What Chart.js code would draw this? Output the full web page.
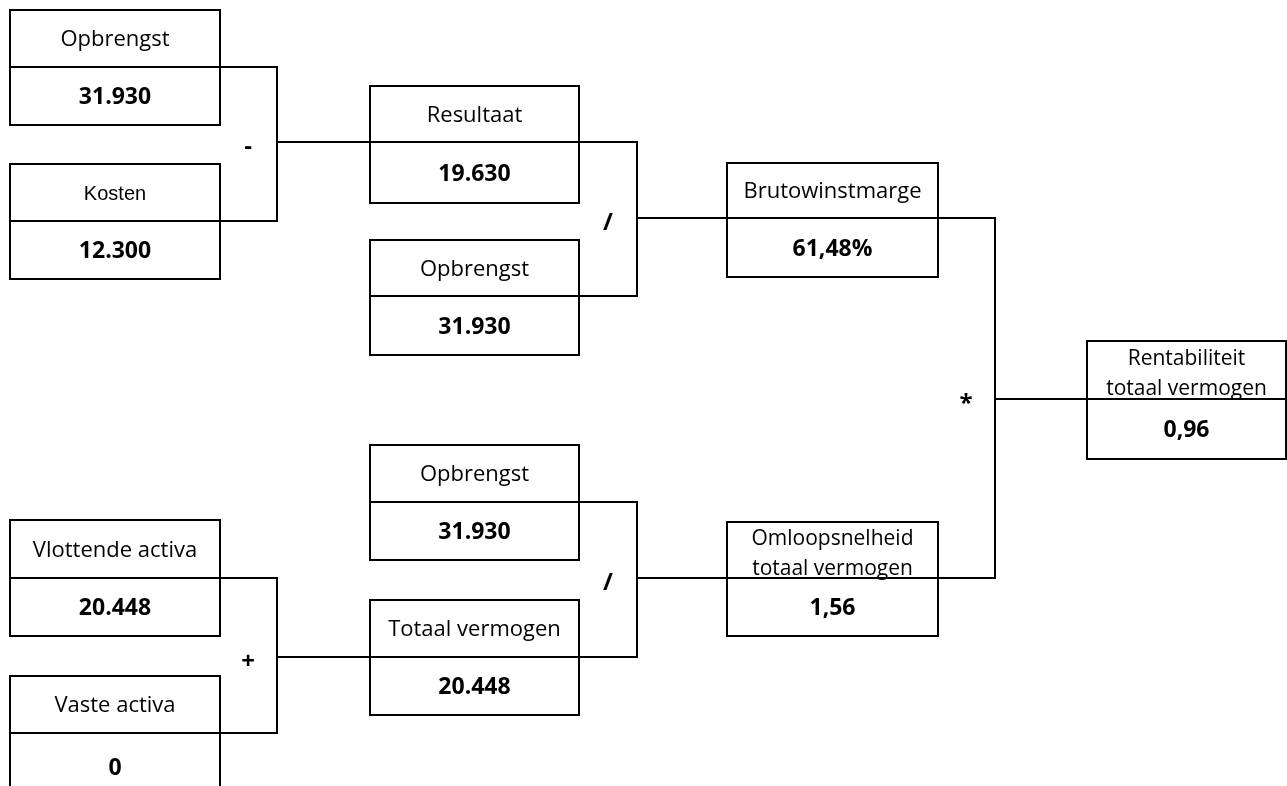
<!DOCTYPE html>
<html>
<head>
    <title>Rentabiliteit totaal vermogen</title>
    <script src="https://cdn.jsdelivr.net/npm/chart.js"></script>
    <style>
        body { margin: 0; background: #fff; }
    </style>
</head>
<body>
    <canvas id="treeChart" width="1287" height="786"></canvas>

    <script>
        // box titles and their values
        const labels = ['Opbrengst', 'Kosten', 'Resultaat', 'Opbrengst', 'Brutowinstmarge',
            'Opbrengst', 'Totaal vermogen', 'Omloopsnelheid\ntotaal vermogen',
            'Rentabiliteit\ntotaal vermogen', 'Vlottende activa', 'Vaste activa'];
        const values = ['31.930', '12.300', '19.630', '31.930', '61,48%',
            '31.930', '20.448', '1,56', '0,96', '20.448', '0'];

        // [first input, second input, result] and the operator between them
        const links = [[0, 1, 2], [2, 3, 4], [5, 6, 7], [4, 7, 8], [9, 10, 6]];
        const operators = ['-', '/', '/', '*', '+'];

        // box geometry in diagram units: left, top, right, bottom, divider
        const boxes = [
            [10, 10, 220, 125, 67],
            [10, 164, 220, 279, 221],
            [370, 86, 579, 203, 142],
            [370, 240, 579, 355, 296],
            [727, 163, 938, 277, 218],
            [370, 445, 579, 560, 502],
            [370, 600, 579, 715, 657],
            [727, 522, 938, 636, 578],
            [1087, 341, 1286, 459, 399],
            [10, 520, 220, 636, 578],
            [10, 676, 220, 800, 733]
        ];
        const junctionX = [277, 637, 637, 995, 277];

        const treePlugin = {
            id: 'tree',
            afterDatasetsDraw(chart) {
                const ctx = chart.ctx;
                const sx = chart.scales.x, sy = chart.scales.y;
                const px = v => sx.getPixelForValue(v);
                const py = v => sy.getPixelForValue(v);
                ctx.save();
                ctx.strokeStyle = '#000';
                ctx.lineWidth = 2;
                ctx.fillStyle = '#000';
                ctx.textAlign = 'center';
                ctx.textBaseline = 'alphabetic';

                // connectors
                links.forEach((l, i) => {
                    const a = boxes[l[0]], b = boxes[l[1]], c = boxes[l[2]];
                    const jx = junctionX[i];
                    ctx.beginPath();
                    ctx.moveTo(px(a[2]), py(a[4]));
                    ctx.lineTo(px(jx), py(a[4]));
                    ctx.lineTo(px(jx), py(b[4]));
                    ctx.lineTo(px(b[2]), py(b[4]));
                    ctx.moveTo(px(jx), py(c[4]));
                    ctx.lineTo(px(c[0]), py(c[4]));
                    ctx.stroke();
                    ctx.font = 'bold 24px "Open Sans"';
                    ctx.fillText(operators[i], px(jx - 29), py(c[4] + 12));
                });

                // boxes
                boxes.forEach((b, i) => {
                    ctx.strokeRect(px(b[0]), py(b[1]), px(b[2]) - px(b[0]), py(b[3]) - py(b[1]));
                    ctx.beginPath();
                    ctx.moveTo(px(b[0]), py(b[4]));
                    ctx.lineTo(px(b[2]), py(b[4]));
                    ctx.stroke();

                    const cx = px((b[0] + b[2]) / 2);
                    const lines = labels[i].split('\n');
                    let size = 22;
                    if (labels[i] === 'Kosten') {
                        ctx.font = '20px "Liberation Sans"';
                    } else {
                        size = lines.length > 1 ? 21 : 22;
                        ctx.font = size + 'px "Open Sans"';
                    }
                    const mid = py((b[1] + b[4]) / 2) + 0.36 * size;
                    const first = mid - (lines.length - 1) * 15 + (lines.length - 1) * 2;
                    lines.forEach((t, k) => ctx.fillText(t, cx, first + k * 30));

                    ctx.font = 'bold 23px "Open Sans"';
                    ctx.fillText(values[i], cx, py((b[4] + b[3]) / 2) + 8);
                });
                ctx.restore();
            }
        };

        const ctx = document.getElementById('treeChart').getContext('2d');
        new Chart(ctx, {
            type: 'scatter',
            data: {
                datasets: [{
                    label: 'Boxes',
                    data: boxes.map(b => ({ x: (b[0] + b[2]) / 2, y: (b[1] + b[3]) / 2 })),
                    pointRadius: 0
                }]
            },
            options: {
                responsive: false,
                animation: false,
                layout: { padding: 0 },
                plugins: { legend: { display: false }, tooltip: { enabled: false } },
                scales: {
                    x: { display: false, min: 0, max: 1287 },
                    y: { display: false, min: 0, max: 786, reverse: true }
                }
            },
            plugins: [treePlugin]
        });
    </script>
</body>
</html>
